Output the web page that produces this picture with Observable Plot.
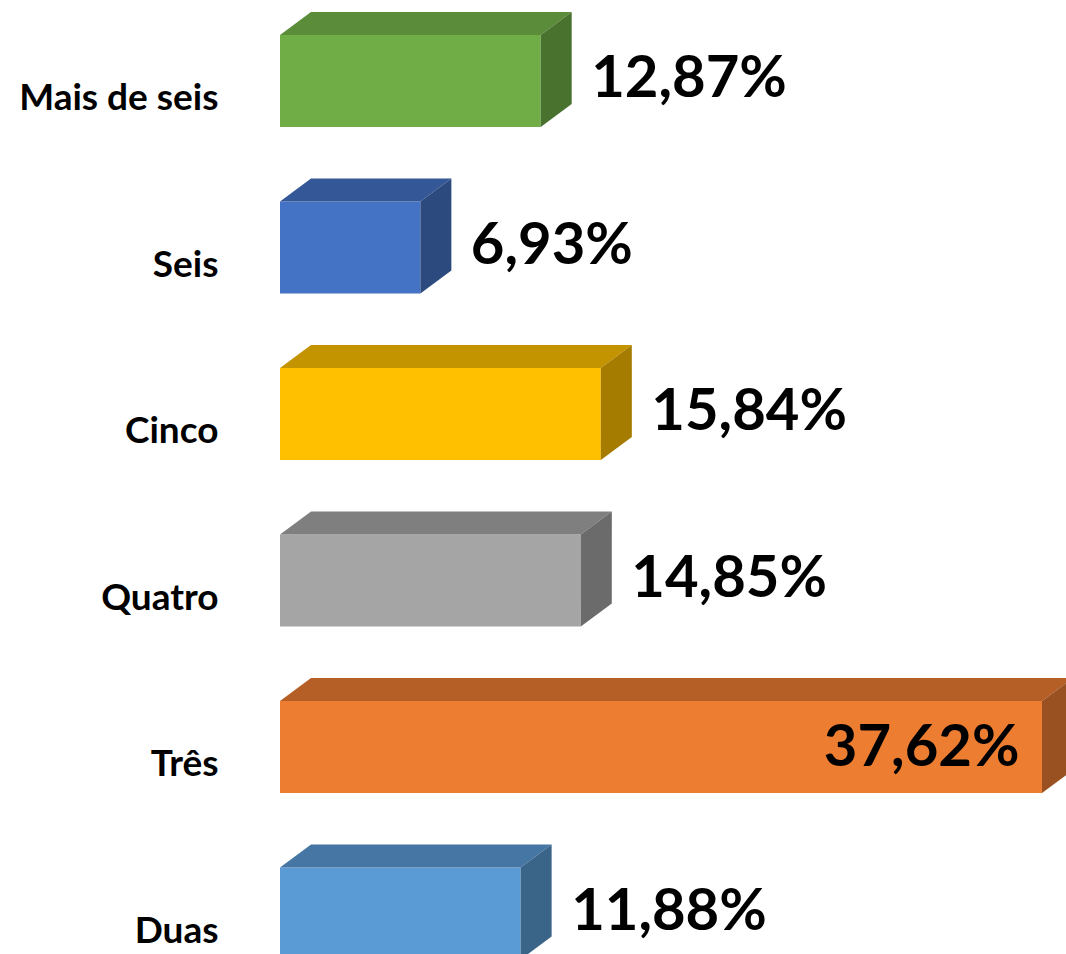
<!DOCTYPE html>
<html>
<head>
<meta charset="utf-8">
<script src="https://cdn.jsdelivr.net/npm/d3@7"></script>
<script src="https://cdn.jsdelivr.net/npm/@observablehq/plot@0.6"></script>
<style>
  html, body { margin: 0; padding: 0; background: #ffffff; }
  #chart { width: 1066px; height: 954px; overflow: hidden; }
</style>
</head>
<body>
<div id="chart"></div>
<script>
const categories = ["Mais de seis", "Seis", "Cinco", "Quatro", "Três", "Duas"];
const values = [12.87, 6.93, 15.84, 14.85, 37.62, 11.88];
const valueLabels = ["12,87%", "6,93%", "15,84%", "14,85%", "37,62%", "11,88%"];
const frontColors = ["#70AD47", "#4472C4", "#FFC000", "#A5A5A5", "#ED7D31", "#5B9BD5"];
const topColors   = ["#5A8C39", "#345797", "#C49300", "#7F7F7F", "#B55E25", "#4677A4"];
const sideColors  = ["#4A722F", "#2C4A7E", "#A67C00", "#6B6B6B", "#9A5121", "#3B6489"];

const xMax = d3.max(values);
const xLeft = 280, xRight = 1042;
const pxPerUnit = (xRight - xLeft) / xMax;
const band = 166.5;
const H = 92 / band;          // front face height in band units
const DX = 31 / pxPerUnit;    // depth offset in x units
const DY = 23 / band;         // depth offset in band units

const rows = categories.map((c, i) => ({
  cat: c, i, value: values[i], label: valueLabels[i],
  front: frontColors[i], top: topColors[i], side: sideColors[i]
}));

const topPts = rows.flatMap(d => [
  {cat: d.cat, fill: d.top, y: d.i - DY, x1: DX, x2: d.value + DX},
  {cat: d.cat, fill: d.top, y: d.i, x1: 0, x2: d.value}
]);
const sidePts = rows.flatMap(d => [
  {cat: d.cat, fill: d.side, x: d.value, y1: d.i, y2: d.i + H},
  {cat: d.cat, fill: d.side, x: d.value + DX, y1: d.i - DY, y2: d.i + H - DY}
]);

const inside = d => d.value > 30;

const chart = Plot.plot({
  width: 1066,
  height: 954,
  margin: 0,
  style: {background: "#ffffff", fontFamily: "Lato, 'Open Sans', sans-serif"},
  x: {domain: [0, xMax], range: [xLeft, xRight], axis: null},
  y: {domain: [0, categories.length], range: [35, 35 + band * categories.length], axis: null},
  color: {type: "identity"},
  marks: [
    Plot.rect(rows, {x1: 0, x2: "value", y1: "i", y2: d => d.i + H, fill: "front"}),
    Plot.areaX(topPts, {y: "y", x1: "x1", x2: "x2", z: "cat", fill: "fill"}),
    Plot.areaY(sidePts, {x: "x", y1: "y1", y2: "y2", z: "cat", fill: "fill"}),
    Plot.text(rows, {
      x: 0, y: d => d.i + H / 2, text: "cat",
      textAnchor: "end", dx: -62, dy: 17,
      fontSize: 37, fontWeight: "bold", fill: "#000000"
    }),
    Plot.text(rows.filter(d => !inside(d)), {
      x: "value", y: d => d.i + H / 2, text: "label",
      textAnchor: "start", dx: 50, dy: -3,
      fontSize: 58, fontWeight: "bold", fill: "#000000"
    }),
    Plot.text(rows.filter(inside), {
      x: "value", y: d => d.i + H / 2, text: "label",
      textAnchor: "end", dx: -23, dy: 0,
      fontSize: 58, fontWeight: "bold", fill: "#000000"
    })
  ]
});
document.getElementById("chart").appendChild(chart);
</script>
</body>
</html>
